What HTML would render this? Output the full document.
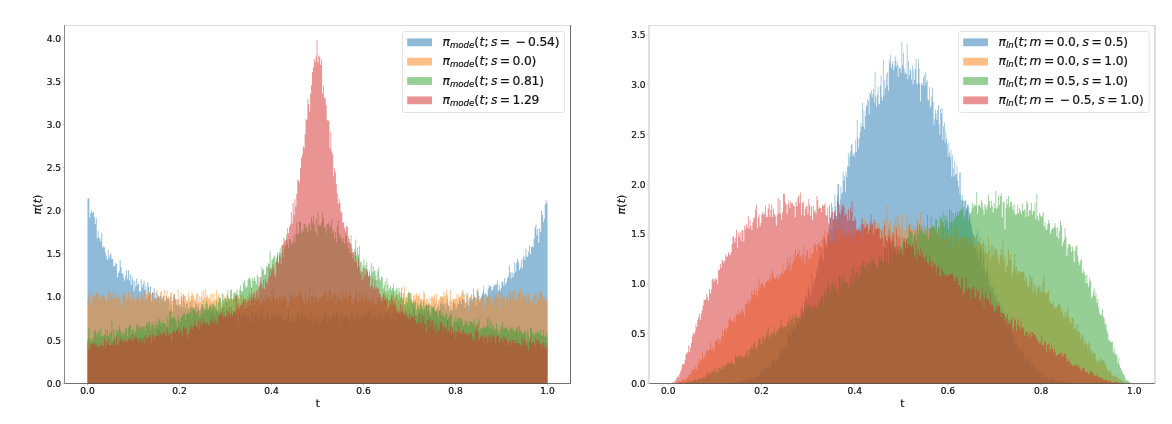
<!DOCTYPE html>
<html><head><meta charset="utf-8"><title>timestep densities</title>
<style>
html,body{margin:0;padding:0;background:#fff;}
svg{display:block;}
text{font-family:"DejaVu Sans","Liberation Sans",sans-serif;fill:#151515;stroke:#151515;stroke-width:.22px;}
.tk{font-size:9.1px;}
.lb{font-size:10.6px;}
.lg{font-size:12.3px;}
.i{font-style:oblique;}
.n{letter-spacing:-.2px;}
.sub{font-size:8.6px;font-style:oblique;}
.h path{fill-opacity:.5;stroke:none;}
</style></head><body>
<svg width="1172" height="424" viewBox="0 0 1172 424">
<rect width="1172" height="424" fill="#fff"/>

<clipPath id="cl"><rect x="64.5" y="25.5" width="506" height="358"/></clipPath>
<g class="h" clip-path="url(#cl)">
<path fill="#1f77b4" d="M87.50,383.50V198.39H88.42V198.17H89.34V217.8H90.26V212.63H91.18V210.25H92.1V213.06H93.02V211.98H93.94V216.94H94.86V224.06H95.78V218.02H96.7V238.52H97.62V230.75H98.54V237.22H99.46V238.95H100.38V241.75H101.3V232.69H102.22V247.58H103.14V246.5H104.06V247.15H104.98V252.54H105.9V256.21H106.82V260.09H107.74V249.95H108.66V258.15H109.58V255.56H110.5V253.62H111.42V259.23H112.34V259.01H113.26V266.13H114.18V266.35H115.1V263.11H116.02V263.97H116.94V277.35H117.86V273.04H118.78V271.31H119.7V259.87H120.62V267.21H121.54V273.68H122.46V273.25H123.38V277.78H124.3V280.8H125.22V275.62H126.14V270.23H127.06V279.29H127.98V270.23H128.9V280.37H129.82V273.9H130.74V285.12H131.66V276.7H132.58V280.37H133.5V291.37H134.42V281.23H135.34V286.84H136.26V278.43H137.18V285.12H138.1V283.39H139.02V291.59H139.94V291.37H140.86V279.51H141.78V287.49H142.7V284.25H143.62V280.8H144.54V290.08H145.46V286.2H146.38V299.57H147.3V281.88H148.22V286.63H149.14V292.45H150.06V286.41H150.98V301.51H151.9V292.02H152.82V292.67H153.74V288.14H154.66V297.63H155.58V292.24H156.5V298.49H157.42V293.96H158.34V296.12H159.26V297.2H160.18V295.91H161.1V299.79H162.02V297.42H162.94V295.69H163.86V301.73H164.78V300.22H165.7V296.34H166.62V299.79H167.54V298.49H168.46V298.71H169.38V311.22H170.3V296.98H171.22V304.97H172.14V311.22H173.06V297.2H173.98V294.83H174.9V300H175.82V304.75H176.74V299.57H177.66V305.4H178.58V299.36H179.5V307.34H180.42V303.89H181.34V296.77H182.26V307.77H183.18V294.83H184.1V303.02H185.02V308.42H185.94V303.89H186.86V303.46H187.78V307.99H188.7V308.85H189.62V301.73H190.54V307.77H191.46V300H192.38V309.5H193.3V307.77H194.22V307.56H195.14V301.08H196.06V303.89H196.98V307.56H197.9V303.89H198.82V309.71H199.74V309.5H200.66V307.56H201.58V303.89H202.5V307.12H203.42V308.63H204.34V306.91H205.26V309.71H206.18V310.79H207.1V303.67H208.02V310.36H208.94V305.83H209.86V305.61H210.78V309.93H211.7V311.44H212.62V303.46H213.54V309.28H214.46V313.17H215.38V308.63H216.3V311.01H217.22V311.87H218.14V311.22H219.06V312.73H219.98V311.22H220.9V308.42H221.82V312.09H222.74V307.77H223.66V307.34H224.58V311.44H225.5V317.7H226.42V302.16H227.34V308.63H228.26V316.83H229.18V314.24H230.1V318.34H231.02V306.48H231.94V314.68H232.86V311.87H233.78V310.79H234.7V312.3H235.62V310.14H236.54V318.56H237.46V326.54H238.38V315.11H239.3V311.22H240.22V316.19H241.14V314.03H242.06V317.05H242.98V313.17H243.9V316.19H244.82V312.52H245.74V317.7H246.66V315.54H247.58V317.91H248.5V314.89H249.42V323.74H250.34V317.91H251.26V311.87H252.18V311.44H253.1V321.58H254.02V312.95H254.94V314.68H255.86V312.95H256.78V317.7H257.7V312.52H258.62V322.44H259.54V314.89H260.46V304.75H261.38V312.73H262.3V316.62H263.22V306.69H264.14V317.7H265.06V321.15H265.98V314.24H266.9V309.71H267.82V312.73H268.74V319.85H269.66V321.58H270.58V316.19H271.5V312.95H272.42V314.24H273.34V317.91H274.26V316.83H275.18V314.03H276.1V315.32H277.02V316.4H277.94V312.95H278.86V315.11H279.78V315.97H280.7V313.17H281.62V316.19H282.54V319.42H283.46V319.64H284.38V323.31H285.3V317.7H286.22V319.42H287.14V317.26H288.06V308.63H288.98V324.38H289.9V320.72H290.82V323.09H291.74V316.62H292.66V322.01H293.58V321.58H294.5V317.48H295.42V322.66H296.34V317.91H297.26V311.66H298.18V315.11H299.1V315.75H300.02V322.87H300.94V315.97H301.86V307.34H302.78V317.48H303.7V314.68H304.62V317.05H305.54V317.7H306.46V320.07H307.38V315.97H308.3V317.91H309.22V322.44H310.14V311.22H311.06V320.29H311.98V323.74H312.9V318.99H313.82V322.23H314.74V317.26H315.66V318.13H316.58V319.21H317.5V324.17H318.42V326.76H319.34V315.54H320.26V321.58H321.18V319.42H322.1V315.97H323.02V319.21H323.94V316.4H324.86V312.95H325.78V314.24H326.7V323.95H327.62V316.4H328.54H329.46V317.26H330.38V321.15H331.3V317.05H332.22V315.97H333.14V311.01H334.06V311.87H334.98V317.7H335.9V310.36H336.82V313.81H337.74V315.97H338.66V318.99H339.58V309.28H340.5V325.89H341.42V313.17H342.34V313.6H343.26V318.13H344.18V315.32H345.1V316.62H346.02V315.32H346.94V317.26H347.86H348.78V317.05H349.7V325.03H350.62V309.5H351.54V314.24H352.46V318.99H353.38V309.5H354.3V318.77H355.22H356.14V315.32H357.06V314.03H357.98V316.19H358.9V320.29H359.82V315.32H360.74V322.66H361.66V315.54H362.58V318.56H363.5V314.24H364.42V313.6H365.34V317.26H366.26V313.38H367.18V315.32H368.1V310.58H369.02V309.93H369.94V312.09H370.86V318.13H371.78V314.68H372.7V318.13H373.62V306.48H374.54V316.62H375.46V318.34H376.38V314.89H377.3V321.58H378.22V312.73H379.14V316.4H380.06V309.71H380.98V315.32H381.9V316.83H382.82V321.15H383.74V310.79H384.66V316.83H385.58V312.95H386.5V313.81H387.42V315.54H388.34V313.6H389.26V311.01H390.18V320.5H391.1V315.97H392.02V313.81H392.94V311.66H393.86V320.72H394.78V310.14H395.7V312.95H396.62V311.01H397.54V314.24H398.46V308.2H399.38V314.24H400.3V318.77H401.22V311.44H402.14V312.95H403.06V311.66H403.98V315.11H404.9V314.68H405.82V311.66H406.74V308.2H407.66V316.4H408.58V306.69H409.5V310.14H410.42V313.38H411.34V313.81H412.26V302.81H413.18V307.12H414.1V306.26H415.02V315.32H415.94V315.54H416.86V316.19H417.78V306.69H418.7V311.01H419.62V312.73H420.54V305.18H421.46V307.56H422.38V311.22H423.3V312.73H424.22V306.26H425.14V311.44H426.06V304.54H426.98V310.36H427.9V304.75H428.82V304.32H429.74V309.71H430.66V314.68H431.58V312.52H432.5V307.56H433.42V309.5H434.34V303.67H435.26V311.01H436.18V309.28H437.1V307.77H438.02V305.4H438.94V310.36H439.86V302.16H440.78V303.89H441.7V297.2H442.62V303.67H443.54V304.75H444.46V303.46H445.38V314.68H446.3V303.24H447.22V299.36H448.14V305.61H449.06V310.14H449.98V307.12H450.9V310.79H451.82V309.71H452.74V300.44H453.66V303.46H454.58H455.5V309.07H456.42V307.34H457.34V303.24H458.26V303.89H459.18V297.63H460.1V301.51H461.02V304.1H461.94V299.36H462.86V300H463.78V299.36H464.7V307.99H465.62V303.02H466.54V293.32H467.46V301.3H468.38V305.4H469.3V297.85H470.22V299.57H471.14V294.18H472.06V298.93H472.98V288.57H473.9V296.98H474.82V297.42H475.74V306.05H476.66V290.08H477.58V292.02H478.5V295.91H479.42V302.38H480.34V298.06H481.26V296.12H482.18V292.67H483.1V290.3H484.02V294.39H484.94V292.88H485.86V294.18H486.78V296.55H487.7V288.79H488.62V284.9H489.54V287.06H490.46V285.76H491.38V290.51H492.3V289.22H493.22V286.2H494.14V284.47H495.06V285.33H495.98V284.47H496.9V280.37H497.82V291.37H498.74V284.69H499.66V290.73H500.58V288.14H501.5V281.45H502.42V281.88H503.34V285.76H504.26V278H505.18V284.47H506.1V281.88H507.02V278.43H507.94V276.49H508.86V265.7H509.78V272.6H510.7V278.86H511.62V271.96H512.54V277.13H513.46V273.47H514.38V262.25H515.3V271.74H516.22V263.33H517.14V258.8H518.06V262.03H518.98V270.23H519.9V267.86H520.82V260.31H521.74V268.5H522.66V258.36H523.58V255.56H524.5V260.09H525.42V249.09H526.34V256.42H527.26V256.85H528.18V251.68H529.1V245.85H530.02V254.05H530.94V246.93H531.86V246.5H532.78V246.93H533.7V238.73H534.62V227.3H535.54V224.71H536.46V235.28H537.38V229.02H538.3V243.05H539.22V227.94H540.14V232.04H541.06V210.68H541.98V214.78H542.9V222.33H543.82V218.88H544.74V204.43H545.66V200.54H546.58V203.13H547.5V383.5Z"/>
<path fill="#ff7f0e" d="M87.50,383.50V298.49H88.42V296.55H89.34V290.94H90.26V305.18H91.18V302.59H92.1V294.61H93.02V297.42H93.94V296.55H94.86V296.12H95.78V293.96H96.7V293.32H97.62V291.16H98.54V297.85H99.46V300.22H100.38V296.98H101.3V293.75H102.22V296.34H103.14V294.39H104.06V295.69H104.98V300.87H105.9V300.65H106.82V299.79H107.74V292.45H108.66V289.86H109.58V299.79H110.5V294.18H111.42V292.67H112.34V298.93H113.26V290.94H114.18V298.28H115.1V296.34H116.02V294.39H116.94V297.85H117.86V300H118.78V295.26H119.7V297.63H120.62V303.67H121.54V306.91H122.46V292.88H123.38V296.34H124.3V293.32H125.22V296.55H126.14V300.87H127.06V298.28H127.98V291.59H128.9V299.79H129.82V296.98H130.74V301.3H131.66V292.88H132.58V297.63H133.5V299.79H134.42V298.06H135.34V301.95H136.26V299.14H137.18V295.26H138.1V294.18H139.02V301.08H139.94V299.79H140.86V293.96H141.78V297.42H142.7V296.34H143.62V290.73H144.54V301.3H145.46V293.53H146.38V294.39H147.3V296.34H148.22V290.51H149.14V295.26H150.06V292.88H150.98V294.39H151.9V292.88H152.82V303.24H153.74V298.71H154.66V298.93H155.58V300.65H156.5V289.86H157.42V297.85H158.34V296.34H159.26V304.32H160.18V292.02H161.1V290.73H162.02V299.79H162.94V295.47H163.86V289.65H164.78V302.59H165.7V295.69H166.62V290.3H167.54V297.63H168.46V295.91H169.38V300.65H170.3V292.02H171.22V292.88H172.14V300.65H173.06V293.96H173.98H174.9V298.49H175.82V298.93H176.74V305.18H177.66V289H178.58V304.1H179.5V305.4H180.42V296.34H181.34V293.32H182.26V300.22H183.18V294.18H184.1V295.47H185.02V296.34H185.94V300.44H186.86V301.3H187.78V292.24H188.7V297.63H189.62V301.73H190.54V296.12H191.46V291.59H192.38V294.39H193.3V296.12H194.22V299.36H195.14V304.1H196.06V293.96H196.98V292.88H197.9V301.73H198.82V296.12H199.74V302.16H200.66V296.77H201.58V290.73H202.5V303.89H203.42V290.51H204.34V297.85H205.26V288.79H206.18V296.98H207.1V295.26H208.02V298.06H208.94V299.14H209.86V294.61H210.78V301.73H211.7V293.53H212.62V301.3H213.54V293.75H214.46V300H215.38V299.57H216.3V289.65H217.22V297.85H218.14V294.18H219.06V298.71H219.98V300.87H220.9V302.16H221.82V305.4H222.74V293.96H223.66V303.24H224.58V295.47H225.5V298.93H226.42V294.18H227.34V295.69H228.26V299.36H229.18V299.79H230.1V298.49H231.02V298.93H231.94V300.65H232.86V293.53H233.78V298.49H234.7V296.12H235.62V295.47H236.54V297.85H237.46V295.26H238.38V297.63H239.3V302.59H240.22V294.39H241.14V295.47H242.06V297.85H242.98V295.04H243.9V309.07H244.82V301.95H245.74V299.14H246.66V296.12H247.58V300H248.5V292.02H249.42V294.61H250.34V296.12H251.26V287.92H252.18V300.22H253.1V293.32H254.02V304.97H254.94V300.22H255.86V300.87H256.78V296.77H257.7V296.98H258.62V293.1H259.54V305.83H260.46V302.16H261.38V294.18H262.3V301.95H263.22V298.28H264.14V303.24H265.06V294.61H265.98V298.71H266.9V298.93H267.82V296.12H268.74V299.57H269.66V297.42H270.58V301.3H271.5V290.3H272.42V297.42H273.34V288.14H274.26V298.28H275.18V301.08H276.1V297.63H277.02V296.77H277.94V305.83H278.86V296.55H279.78V293.96H280.7V300H281.62V296.77H282.54V300.87H283.46V296.12H284.38V296.98H285.3V295.04H286.22V300.44H287.14V307.34H288.06V304.75H288.98V295.04H289.9V300.65H290.82V293.53H291.74V296.34H292.66H293.58V299.79H294.5V297.2H295.42V296.77H296.34V295.91H297.26V299.14H298.18V293.1H299.1V294.83H300.02V289.65H300.94V295.69H301.86V300H302.78V299.57H303.7V303.02H304.62V291.81H305.54V299.79H306.46V303.24H307.38V297.42H308.3V298.06H309.22V287.28H310.14V303.02H311.06V295.91H311.98H312.9V292.88H313.82V302.16H314.74V297.63H315.66V295.69H316.58V297.2H317.5V302.38H318.42V301.08H319.34V296.98H320.26V298.71H321.18V296.77H322.1V295.69H323.02V295.04H323.94V292.45H324.86V291.16H325.78V295.69H326.7V300.65H327.62V291.37H328.54V300H329.46V288.57H330.38V290.73H331.3V299.36H332.22V298.93H333.14V293.32H334.06V295.04H334.98V292.45H335.9V302.38H336.82V295.69H337.74V298.06H338.66V293.53H339.58V301.51H340.5V297.42H341.42V300.44H342.34V289.43H343.26V295.69H344.18V298.06H345.1V297.42H346.02V291.59H346.94V301.95H347.86V295.04H348.78V295.69H349.7V290.94H350.62V295.91H351.54V301.51H352.46V304.32H353.38V297.63H354.3V296.98H355.22V296.77H356.14V288.79H357.06V301.73H357.98V301.3H358.9V293.1H359.82V300.44H360.74V296.98H361.66V296.12H362.58V296.98H363.5V301.3H364.42V292.88H365.34V300H366.26V294.61H367.18V299.79H368.1V301.3H369.02V299.57H369.94V304.32H370.86V299.79H371.78V299.36H372.7V302.59H373.62V298.71H374.54V304.1H375.46V302.59H376.38V303.89H377.3V297.2H378.22V296.98H379.14V298.93H380.06V301.95H380.98V296.55H381.9V303.89H382.82V293.32H383.74V290.94H384.66V293.75H385.58V297.85H386.5V296.34H387.42V294.39H388.34V300.22H389.26V301.08H390.18V298.06H391.1V297.2H392.02V294.39H392.94V290.08H393.86V302.16H394.78V291.37H395.7V294.18H396.62H397.54V298.71H398.46V300.65H399.38V293.1H400.3V298.49H401.22V292.45H402.14V299.79H403.06V299.57H403.98V286.41H404.9V297.63H405.82V300.44H406.74V297.42H407.66V294.39H408.58V293.1H409.5V292.88H410.42V294.18H411.34V298.49H412.26V301.95H413.18V295.69H414.1V294.39H415.02V302.16H415.94V293.32H416.86V295.47H417.78V296.12H418.7V293.32H419.62V298.71H420.54V299.14H421.46V298.71H422.38V301.51H423.3V291.37H424.22V293.32H425.14V302.38H426.06V298.71H426.98V298.93H427.9V303.02H428.82V297.63H429.74V304.54H430.66V298.06H431.58V296.12H432.5V298.28H433.42V296.55H434.34V294.61H435.26V300.22H436.18V293.96H437.1V303.67H438.02V300.87H438.94V299.36H439.86V296.34H440.78V295.69H441.7V297.85H442.62V296.55H443.54V292.02H444.46V296.12H445.38V294.61H446.3V289.86H447.22V295.69H448.14V305.4H449.06V301.51H449.98V290.3H450.9V300H451.82V302.16H452.74V298.93H453.66V298.49H454.58V299.14H455.5V298.71H456.42V293.75H457.34V299.79H458.26V295.26H459.18V297.42H460.1V296.55H461.02V293.53H461.94V290.3H462.86V291.81H463.78V293.96H464.7V301.73H465.62V303.02H466.54V296.34H467.46V292.88H468.38V310.79H469.3V298.28H470.22V296.12H471.14V301.3H472.06V302.16H472.98V302.59H473.9V295.47H474.82V299.36H475.74V299.14H476.66V297.42H477.58V288.35H478.5V299.79H479.42H480.34V299.36H481.26V294.83H482.18V297.63H483.1V285.55H484.02V306.69H484.94V303.02H485.86V296.77H486.78V296.34H487.7V297.85H488.62V293.32H489.54V295.91H490.46V299.57H491.38V297.63H492.3V304.1H493.22V291.37H494.14V300H495.06V295.26H495.98V293.96H496.9V299.79H497.82V297.63H498.74V289.65H499.66V308.42H500.58V292.88H501.5V297.42H502.42V293.75H503.34V297.63H504.26V297.2H505.18V305.18H506.1V297.85H507.02V296.34H507.94V300.44H508.86V293.96H509.78V290.94H510.7V296.34H511.62V300.44H512.54V292.02H513.46V296.77H514.38V289.86H515.3V297.63H516.22V300H517.14V293.96H518.06V292.88H518.98H519.9V288.14H520.82V298.93H521.74V291.81H522.66V298.71H523.58V295.47H524.5V295.26H525.42V296.77H526.34V302.59H527.26V292.24H528.18V293.96H529.1V297.63H530.02V300.87H530.94V299.57H531.86V303.46H532.78V298.49H533.7V294.18H534.62V295.91H535.54V304.97H536.46V292.88H537.38V300.65H538.3V298.93H539.22V292.02H540.14V291.59H541.06V292.02H541.98V295.91H542.9V296.77H543.82V300.44H544.74V297.63H545.66V300.87H546.58V297.42H547.5V383.5Z"/>
<path fill="#2ca02c" d="M87.50,383.50V338.41H88.42V327.84H89.34V337.98H90.26V340.57H91.18V339.27H92.1V340.57H93.02V337.33H93.94V331.07H94.86V329.56H95.78V333.45H96.7V337.33H97.62V332.8H98.54V331.07H99.46V335.17H100.38V328.48H101.3V336.9H102.22V336.03H103.14V335.6H104.06V334.74H104.98V329.56H105.9V336.25H106.82V330.21H107.74V336.03H108.66V334.96H109.58V331.5H110.5V332.8H111.42V321.58H112.34V339.49H113.26V329.13H114.18V335.17H115.1V337.11H116.02V330.21H116.94V332.58H117.86V330.21H118.78V325.46H119.7V330.86H120.62V333.23H121.54V331.07H122.46V336.25H123.38V332.8H124.3V333.45H125.22V326.97H126.14V328.27H127.06V336.47H127.98V327.4H128.9V325.68H129.82V324.38H130.74V334.52H131.66V329.78H132.58V328.48H133.5V333.66H134.42V332.37H135.34V330.64H136.26V323.74H137.18V325.68H138.1V327.84H139.02V325.25H139.94V329.56H140.86V326.76H141.78V327.62H142.7V325.68H143.62V326.76H144.54V331.07H145.46V325.25H146.38V321.79H147.3V326.11H148.22V322.44H149.14V321.79H150.06V329.99H150.98V325.03H151.9V322.01H152.82V324.82H153.74V328.48H154.66V325.03H155.58V320.93H156.5V327.4H157.42V324.6H158.34V318.77H159.26V319.64H160.18V322.23H161.1V326.11H162.02V320.5H162.94V323.31H163.86V323.74H164.78V323.95H165.7V327.62H166.62V316.4H167.54V328.27H168.46V321.36H169.38V309.28H170.3V312.09H171.22V318.13H172.14V318.56H173.06V317.7H173.98V316.62H174.9V319.85H175.82V321.15H176.74V327.62H177.66V315.11H178.58V320.07H179.5V322.44H180.42V318.34H181.34V316.4H182.26V315.32H183.18V313.81H184.1V313.38H185.02V320.07H185.94V314.46H186.86V313.81H187.78V312.73H188.7V314.68H189.62V311.65H190.54V307.12H191.46V317.48H192.38V307.12H193.3V308.63H194.22V310.36H195.14V311.44H196.06V313.38H196.98V311.87H197.9V310.36H198.82V317.05H199.74V315.75H200.66V312.73H201.58V304.97H202.5V299.79H203.42V312.73H204.34V309.93H205.26V303.46H206.18V301.08H207.1V308.2H208.02V308.85H208.94V307.34H209.86V303.67H210.78V306.48H211.7V303.67H212.62V306.26H213.54V304.53H214.46V305.83H215.38V307.77H216.3V301.3H217.22V310.14H218.14V302.38H219.06V296.98H219.98V298.06H220.9V308.2H221.82V293.53H222.74V300.22H223.66V298.49H224.58V298.93H225.5V297.85H226.42V301.73H227.34V290.51H228.26V297.63H229.18V298.93H230.1V290.3H231.02V289.43H231.94V299.14H232.86V298.28H233.78V292.24H234.7V293.53H235.62V292.88H236.54V290.08H237.46V294.83H238.38V298.93H239.3V289.43H240.22V285.55H241.14V291.16H242.06V291.59H242.98V282.53H243.9V280.15H244.82V285.98H245.74V287.92H246.66V286.2H247.58V279.29H248.5V277.78H249.42V278H250.34V280.8H251.26V287.27H252.18V278H253.1V281.23H254.02V277.78H254.94V281.23H255.86V284.25H256.78V274.76H257.7V276.92H258.62V287.49H259.54V277.35H260.46V281.23H261.38V266.78H262.3V270.01H263.22V269.37H264.14V274.76H265.06V273.9H265.98V266.35H266.9V266.78H267.82V263.33H268.74V263.76H269.66V251.24H270.58V267.64H271.5V259.66H272.42V259.23H273.34V256.64H274.26V255.13H275.18V262.25H276.1V257.93H277.02V255.77H277.94V262.89H278.86V255.34H279.78V248.22H280.7V253.19H281.62V245.2H282.54V256.64H283.46V249.09H284.38V245.2H285.3V245.85H286.22V234.2H287.14V242.61H288.06V247.58H288.98V238.95H289.9V239.16H290.82V242.4H291.74V244.77H292.66V240.46H293.58V235.06H294.5V242.4H295.42V233.55H296.34V222.33H297.26V234.85H298.18V233.34H299.1V221.25H300.02V222.12H300.94V232.69H301.86V229.02H302.78V231.83H303.7V223.84H304.62V223.63H305.54V228.16H306.46V226.65H307.38V232.26H308.3V224.28H309.22V222.55H310.14V229.67H311.06V217.16H311.98V222.33H312.9V215.86H313.82V224.28H314.74V231.83H315.66V219.53H316.58V235.06H317.5V212.41H318.42V224.49H319.34V226H320.26V225.35H321.18V222.12H322.1V212.41H323.02V217.8H323.94V227.94H324.86V226.22H325.78V233.12H326.7V224.06H327.62V223.84H328.54V222.55H329.46V228.59H330.38V225.35H331.3V218.45H332.22V233.12H333.14V230.32H334.06V237.87H334.98V232.04H335.9V242.18H336.82V226H337.74V220.61H338.66V233.77H339.58V238.3H340.5V234.63H341.42V238.3H342.34V241.75H343.26V237.44H344.18V243.91H345.1V233.55H346.02V236.57H346.94V242.83H347.86V248.44H348.78V242.83H349.7V253.19H350.62V235.06H351.54V253.4H352.46V258.15H353.38V254.7H354.3V249.09H355.22V239.59H356.14V255.56H357.06V247.58H357.98V254.7H358.9V246.07H359.82V261.17H360.74V262.25H361.66V271.96H362.58V265.05H363.5V258.8H364.42V267.43H365.34V265.27H366.26V262.03H367.18V269.58H368.1V276.27H369.02V270.45H369.94V276.06H370.86V262.89H371.78V272.6H372.7V266.35H373.62V271.31H374.54V270.66H375.46V275.62H376.38V279.94H377.3V270.88H378.22V267.64H379.14V279.08H380.06V280.59H380.98V276.7H381.9V277.57H382.82V288.57H383.74V284.9H384.66V281.67H385.58V291.16H386.5V278.21H387.42V284.69H388.34V290.51H389.26V287.92H390.18V286.2H391.1V290.3H392.02V287.92H392.94V283.82H393.86V290.94H394.78V296.55H395.7V289H396.62V287.49H397.54V294.61H398.46V287.92H399.38V292.02H400.3V296.98H401.22V287.27H402.14V297.85H403.06V293.32H403.98V303.89H404.9V304.53H405.82V296.98H406.74V302.16H407.66V292.45H408.58V291.81H409.5V299.36H410.42V292.88H411.34V301.51H412.26V304.1H413.18V300.44H414.1V301.73H415.02V299.14H415.94V309.71H416.86V303.02H417.78V305.61H418.7V308.42H419.62V303.46H420.54V301.3H421.46V305.18H422.38V309.07H423.3V300H424.22V308.85H425.14V305.83H426.06V304.53H426.98V304.97H427.9V305.83H428.82V312.73H429.74V316.19H430.66V306.05H431.58V306.26H432.5H433.42V307.77H434.34V310.36H435.26V312.09H436.18V311.44H437.1V313.38H438.02V317.26H438.94V310.79H439.86V310.14H440.78V315.97H441.7V312.52H442.62V315.32H443.54V316.83H444.46V317.7H445.38V309.07H446.3V312.95H447.22V320.07H448.14V318.34H449.06V316.19H449.98V314.46H450.9V313.6H451.82V326.33H452.74V322.44H453.66V321.58H454.58V317.26H455.5V321.36H456.42V318.56H457.34V322.23H458.26V317.05H459.18V318.99H460.1V318.56H461.02V318.34H461.94V321.15H462.86V325.46H463.78V325.03H464.7V319.42H465.62V323.52H466.54V320.93H467.46V326.11H468.38V325.46H469.3V321.15H470.22V321.79H471.14V321.58H472.06V323.74H472.98V322.44H473.9V319.42H474.82V327.4H475.74V327.62H476.66V325.89H477.58V322.01H478.5V318.56H479.42V331.5H480.34V328.05H481.26V327.84H482.18V328.7H483.1V325.89H484.02V327.4H484.94H485.86V326.54H486.78V318.77H487.7V325.89H488.62V316.62H489.54V328.27H490.46V320.72H491.38V328.7H492.3V324.17H493.22V327.4H494.14V330.86H495.06V329.35H495.98V323.31H496.9V328.48H497.82V331.5H498.74V334.96H499.66V330.86H500.58V325.03H501.5V326.97H502.42V321.58H503.34V329.78H504.26V328.05H505.18V326.54H506.1V328.05H507.02V329.35H507.94V330.86H508.86V333.45H509.78V327.4H510.7V328.27H511.62V329.56H512.54V327.19H513.46V332.15H514.38V329.99H515.3V331.07H516.22V326.97H517.14V327.19H518.06V332.37H518.98V325.25H519.9V331.07H520.82V330.86H521.74V334.09H522.66V333.23H523.58V332.15H524.5V330.86H525.42V333.23H526.34V340.35H527.26V329.56H528.18V335.39H529.1V340.78H530.02V327.4H530.94V327.84H531.86V333.01H532.78V333.23H533.7V336.68H534.62V334.31H535.54V331.94H536.46V333.66H537.38V330.64H538.3V332.58H539.22V333.88H540.14V329.99H541.06V336.03H541.98V335.6H542.9V329.78H543.82V335.82H544.74V336.68H545.66V337.11H546.58V331.94H547.5V383.5Z"/>
<path fill="#d62728" d="M87.50,383.50V342.51H88.42V350.49H89.34V348.55H90.26V343.8H91.18V344.88H92.1V343.15H93.02H93.94V344.88H94.86V342.94H95.78V346.61H96.7V343.15H97.62V347.47H98.54V347.04H99.46V345.31H100.38V343.8H101.3V345.74H102.22V346.17H103.14V345.31H104.06V338.41H104.98V348.98H105.9V341.21H106.82V343.58H107.74V339.27H108.66V345.31H109.58V345.53H110.5V344.66H111.42V342.94H112.34V344.88H113.26V340.56H114.18V340.35H115.1V345.53H116.02V336.68H116.94V344.45H117.86V346.17H118.78V341.21H119.7V337.11H120.62V340.78H121.54V339.27H122.46V341.64H123.38V342.72H124.3V340.13H125.22V339.49H126.14V341.21H127.06V342.07H127.98V339.7H128.9V338.41H129.82V338.62H130.74V341.43H131.66V334.09H132.58V340.13H133.5H134.42V337.33H135.34V336.68H136.26V338.19H137.18V339.49H138.1V342.29H139.02V337.98H139.94V339.49H140.86V337.98H141.78V342.94H142.7V339.27H143.62V336.46H144.54V343.15H145.46V334.74H146.38V338.19H147.3V339.05H148.22V336.68H149.14V334.95H150.06V337.33H150.98V343.37H151.9V333.23H152.82V339.05H153.74V334.52H154.66V339.27H155.58V335.82H156.5H157.42V329.13H158.34V336.03H159.26V331.07H160.18V333.88H161.1V334.95H162.02V333.44H162.94V332.15H163.86V331.72H164.78V336.9H165.7V334.95H166.62V326.97H167.54V332.15H168.46V336.03H169.38V333.88H170.3V333.23H171.22V341.64H172.14V332.15H173.06V329.99H173.98V332.37H174.9V332.8H175.82V330.21H176.74V329.99H177.66V326.76H178.58V333.44H179.5V328.7H180.42V332.15H181.34V331.07H182.26V336.68H183.18V325.89H184.1V328.7H185.02V329.34H185.94V327.4H186.86V338.41H187.78V333.88H188.7V332.37H189.62V329.34H190.54V324.38H191.46V326.97H192.38V328.7H193.3V325.03H194.22V320.71H195.14V326.32H196.06V326.76H196.98V327.19H197.9V321.36H198.82V329.99H199.74V319.42H200.66V325.46H201.58V324.38H202.5V318.13H203.42V321.36H204.34V323.74H205.26V322.01H206.18V323.95H207.1V322.66H208.02V325.25H208.94V325.03H209.86V319.64H210.78V315.11H211.7V322.66H212.62V322.44H213.54V316.4H214.46V323.09H215.38V319.42H216.3V324.6H217.22V322.66H218.14V316.18H219.06V314.89H219.98V314.03H220.9V315.32H221.82V312.95H222.74V318.56H223.66V315.54H224.58V317.48H225.5V315.54H226.42V310.14H227.34V316.4H228.26V311.87H229.18V306.91H230.1V314.24H231.02V311.22H231.94V316.62H232.86V310.57H233.78V312.52H234.7V314.46H235.62V295.69H236.54V309.5H237.46V304.32H238.38V307.12H239.3V309.06H240.22V304.75H241.14V304.96H242.06V303.24H242.98V300H243.9V299.57H244.82V298.71H245.74V307.77H246.66V302.81H247.58V301.08H248.5V297.84H249.42V305.83H250.34V300.43H251.26V293.31H252.18V297.63H253.1V294.39H254.02V291.8H254.94V297.84H255.86V290.94H256.78V289.65H257.7V299.79H258.62V286.41H259.54V282.96H260.46V276.7H261.38V285.11H262.3V288.57H263.22V279.94H264.14V289H265.06V279.29H265.98V282.09H266.9V284.04H267.82V278.21H268.74V268.29H269.66V276.05H270.58V268.72H271.5V270.44H272.42V264.62H273.34V267.42H274.26V273.9H275.18V276.92H276.1V260.73H277.02V252.75H277.94V262.46H278.86V251.89H279.78V256.63H280.7V264.4H281.62V245.85H282.54V243.91H283.46V237.43H284.38V240.67H285.3V240.24H286.22V239.16H287.14V228.37H288.06V232.9H288.98V226.64H289.9V224.49H290.82V212.19H291.74V223.62H292.66V202.91H293.58V215.21H294.5V199.03H295.42V206.58H296.34V194.07H297.26V180.26H298.18V180.04H299.1V182.63H300.02V167.96H300.94V158.03H301.86V154.8H302.78V146.17H303.7V148.54H304.62V134.3H305.54V119.2H306.46V119.84H307.38V99.13H308.3V103.88H309.22V111.43H310.14V93.74H311.06V84.89H311.98V72.16H312.9V67.42H313.82V59H314.74V62.45H315.66V56.41H316.58V40.01H317.5V62.45H318.42V55.55H319.34V56.63H320.26V65.04H321.18V59.43H322.1V93.74H323.02V85.76H323.94V97.84H324.86V98.48H325.78V104.96H326.7V120.06H327.62V120.92H328.54V120.28H329.46V148.32H330.38V131.71H331.3V151.56H332.22V153.93H333.14V176.37H334.06V168.17H334.98V172.27H335.9V183.71H336.82V193.42H337.74V203.77H338.66V198.6H339.58V202.7H340.5V211.33H341.42V213.05H342.34V222.76H343.26V221.9H344.18V228.15H345.1V231.18H346.02V226H346.94V227.08H347.86V235.92H348.77V238.94H349.69V242.83H350.61V244.55H351.53V248.44H352.45V251.89H353.37V252.32H354.29V260.95H355.21V252.1H356.13V262.24H357.05V267.64H357.97V257.71H358.89V266.34H359.81V273.68H360.73V270.66H361.65V280.15H362.57V268.07H363.49V277.56H364.41V269.15H365.33V274.76H366.25V270.01H367.17V271.95H368.09V276.48H369.01V274.54H369.93V286.84H370.85V285.33H371.77V278.43H372.69V289.21H373.61V286.84H374.53V280.58H375.45V288.78H376.37V286.84H377.29V288.14H378.21V289H379.13V292.88H380.05V294.82H380.97V300.65H381.89V297.41H382.81V294.18H383.73V300.22H384.65V296.77H385.57V300.43H386.49V298.92H387.41V308.63H388.33V306.26H389.25V300H390.17V304.75H391.09V295.04H392.01V300.43H392.93V304.75H393.85V298.71H394.77V303.67H395.69V307.12H396.61V310.79H397.53V313.59H398.45V311.65H399.37V312.73H400.29V304.1H401.21V311.44H402.13V306.69H403.05V312.95H403.97V314.67H404.89V310.36H405.81V314.03H406.73V316.18H407.65V319.2H408.57V314.24H409.49V320.07H410.41V317.48H411.33V316.62H412.25V317.69H413.17V317.48H414.09V314.89H415.01V320.07H415.93V324.17H416.85V322.01H417.77V322.87H418.69V313.38H419.61V321.79H420.53V324.6H421.45V315.11H422.37V320.93H423.29V316.18H424.21V323.74H425.13V323.09H426.05V332.37H426.97V320.07H427.89V320.28H428.81V316.62H429.73V326.11H430.65V321.15H431.57V319.64H432.49V321.36H433.41V330.86H434.33V326.76H435.25V322.87H436.17V332.58H437.09V325.03H438.01V330.86H438.93V328.7H439.85V321.79H440.77V322.66H441.69V323.74H442.61V331.29H443.53V325.46H444.45V326.97H445.37V327.62H446.29V331.93H447.21V320.71H448.13V330.21H449.05V332.37H449.97V325.46H450.89V333.88H451.81V328.05H452.73V331.5H453.65V333.66H454.57V330.86H455.49V339.27H456.41V331.72H457.33V332.37H458.25V326.11H459.17V334.09H460.09V330.86H461.01V334.09H461.93V331.93H462.85V329.13H463.77V332.8H464.69V334.31H465.61V333.66H466.53V335.6H467.45V334.31H468.37V332.37H469.29V335.6H470.21V332.8H471.13V333.88H472.05V339.49H472.97V336.46H473.89V340.35H474.81V331.07H475.73V324.38H476.65V330.64H477.57V332.58H478.49V341H479.41V338.84H480.33V336.25H481.25V338.19H482.17V334.31H483.09V342.07H484.01V337.11H484.93V337.54H485.85V335.6H486.77V343.58H487.69V338.19H488.61V334.74H489.53V341.86H490.45V333.88H491.37V337.98H492.29V336.03H493.21V334.52H494.13V337.33H495.05V343.58H495.97V337.11H496.89V336.03H497.81V335.39H498.73V342.29H499.65V341.64H500.57V337.76H501.49V338.62H502.41V342.07H503.33V335.82H504.25V338.62H505.17V339.92H506.09V338.41H507.01V345.31H507.93V341.86H508.85V342.29H509.77V339.92H510.69V345.74H511.61V339.92H512.53V340.56H513.45V342.72H514.37V340.35H515.29V343.37H516.21V342.94H517.13V339.49H518.05V344.45H518.97V342.94H519.89V346.39H520.81V344.45H521.73V337.98H522.65V345.31H523.57V339.49H524.49V340.78H525.41V345.1H526.33V343.37H527.25V347.04H528.17V350.27H529.09V341.21H530.01V337.11H530.93V343.15H531.85V343.37H532.77V341.64H533.69V343.15H534.61V347.04H535.53V338.19H536.45V343.37H537.37V339.92H538.29V340.35H539.21V344.45H540.13V344.02H541.05V347.25H541.97V343.37H542.89H543.81V347.9H544.73V344.66H545.65V347.9H546.57V343.15H547.49V383.5Z"/>
</g>
<line x1="64.5" y1="25" x2="64.5" y2="384" stroke="#000" stroke-opacity="0.46" stroke-width="1"/>
<line x1="570.5" y1="25" x2="570.5" y2="384" stroke="#000" stroke-opacity="0.58" stroke-width="1"/>
<line x1="65" y1="25.5" x2="570" y2="25.5" stroke="#000" stroke-opacity="0.14" stroke-width="1"/>
<line x1="65" y1="383.5" x2="570" y2="383.5" stroke="#000" stroke-opacity="0.55" stroke-width="1"/>
<line x1="62.5" y1="383.30" x2="64" y2="383.30" stroke="#000" stroke-opacity=".22" stroke-width="1"/>
<text class="tk" x="61.1" y="386.70" text-anchor="end">0.0</text>
<line x1="62.5" y1="340.15" x2="64" y2="340.15" stroke="#000" stroke-opacity=".22" stroke-width="1"/>
<text class="tk" x="61.1" y="343.55" text-anchor="end">0.5</text>
<line x1="62.5" y1="297.00" x2="64" y2="297.00" stroke="#000" stroke-opacity=".22" stroke-width="1"/>
<text class="tk" x="61.1" y="300.40" text-anchor="end">1.0</text>
<line x1="62.5" y1="253.85" x2="64" y2="253.85" stroke="#000" stroke-opacity=".22" stroke-width="1"/>
<text class="tk" x="61.1" y="257.25" text-anchor="end">1.5</text>
<line x1="62.5" y1="210.70" x2="64" y2="210.70" stroke="#000" stroke-opacity=".22" stroke-width="1"/>
<text class="tk" x="61.1" y="214.10" text-anchor="end">2.0</text>
<line x1="62.5" y1="167.55" x2="64" y2="167.55" stroke="#000" stroke-opacity=".22" stroke-width="1"/>
<text class="tk" x="61.1" y="170.95" text-anchor="end">2.5</text>
<line x1="62.5" y1="124.40" x2="64" y2="124.40" stroke="#000" stroke-opacity=".22" stroke-width="1"/>
<text class="tk" x="61.1" y="127.80" text-anchor="end">3.0</text>
<line x1="62.5" y1="81.25" x2="64" y2="81.25" stroke="#000" stroke-opacity=".22" stroke-width="1"/>
<text class="tk" x="61.1" y="84.65" text-anchor="end">3.5</text>
<line x1="62.5" y1="38.10" x2="64" y2="38.10" stroke="#000" stroke-opacity=".22" stroke-width="1"/>
<text class="tk" x="61.1" y="41.50" text-anchor="end">4.0</text>
<line x1="87.50" y1="384" x2="87.50" y2="385.5" stroke="#000" stroke-opacity=".22" stroke-width="1"/>
<text class="tk" x="87.50" y="394.1" text-anchor="middle">0.0</text>
<line x1="179.50" y1="384" x2="179.50" y2="385.5" stroke="#000" stroke-opacity=".22" stroke-width="1"/>
<text class="tk" x="179.50" y="394.1" text-anchor="middle">0.2</text>
<line x1="271.50" y1="384" x2="271.50" y2="385.5" stroke="#000" stroke-opacity=".22" stroke-width="1"/>
<text class="tk" x="271.50" y="394.1" text-anchor="middle">0.4</text>
<line x1="363.50" y1="384" x2="363.50" y2="385.5" stroke="#000" stroke-opacity=".22" stroke-width="1"/>
<text class="tk" x="363.50" y="394.1" text-anchor="middle">0.6</text>
<line x1="455.50" y1="384" x2="455.50" y2="385.5" stroke="#000" stroke-opacity=".22" stroke-width="1"/>
<text class="tk" x="455.50" y="394.1" text-anchor="middle">0.8</text>
<line x1="547.50" y1="384" x2="547.50" y2="385.5" stroke="#000" stroke-opacity=".22" stroke-width="1"/>
<text class="tk" x="547.50" y="394.1" text-anchor="middle">1.0</text>
<text class="lb" x="317.9" y="407" text-anchor="middle">t</text>
<text class="lb" style="font-size:11.2px" transform="translate(40.5,204.5) rotate(-90)" text-anchor="middle"><tspan class="i">π</tspan>(<tspan class="i">t</tspan>)</text>
<clipPath id="cr"><rect x="649" y="25.5" width="506" height="358"/></clipPath>
<g class="h" clip-path="url(#cr)">
<path fill="#1f77b4" d="M716.13,383.50V383.19H716.87V383.5H717.62V383.19H718.36V383.5H719.11V383.19H719.85V383.5H720.6H721.34V383.19H722.09V383.5H722.83V383.19H723.58V383.5H724.32V383.19H725.07V383.5H725.81H726.55V383.19H727.3H728.04V382.88H728.79V383.5H729.53V382.88H730.28H731.02H731.77V383.5H732.51V382.88H733.26H734V381.94H734.74V383.19H735.49V381.94H736.23V383.19H736.98V381.32H737.72V383.19H738.47V381.32H739.21V381.94H739.96V381.01H740.7H741.45V381.94H742.19V381.01H742.94V381.32H743.68V380.7H744.42V381.32H745.17V379.76H745.91V378.52H746.66V380.39H747.4V377.9H748.15V379.14H748.89V379.45H749.64V380.39H750.38V378.52H751.13V376.34H751.87V378.83H752.62V378.52H753.36V379.14H754.1H754.85V377.27H755.59V377.58H756.34V375.4H757.08V373.85H757.83V376.96H758.57V375.4H759.32V377.27H760.06V370.11H760.81V373.85H761.55V371.98H762.3V368.24H763.04V371.36H763.78V370.73H764.53V368.55H765.27V369.18H766.02V367.31H766.76H767.51V369.8H768.25V367.31H769V367.93H769.74V366.37H770.49V364.19H771.23V362.64H771.98V360.77H772.72V360.46H773.46V361.08H774.21V360.15H774.95V366.06H775.7V357.97H776.44V361.39H777.19V360.77H777.93V361.7H778.68V354.23H779.42V355.79H780.17V347.07H780.91V346.76H781.65V351.12H782.4V350.8H783.14V345.51H783.89V346.76H784.63V343.64H785.38V348.31H786.12V345.2H786.87V341.15H787.61V334.3H788.36V330.25H789.1V332.74H789.85V329.63H790.59V337.73H791.33V327.45H792.08V329.63H792.82V325.58H793.57V330.56H794.31V327.76H795.06V331.19H795.8V324.65H796.55V317.17H797.29V323.09H798.04V323.71H798.78V319.04H799.53V315.62H800.27V308.46H801.01V308.14H801.76V301.61H802.5V307.52H803.25V312.19H803.99V301.92H804.74V300.36H805.48V295.07H806.23H806.97V299.11H807.72V288.22H808.46V284.48H809.21V292.58H809.95V293.2H810.69V295.69H811.44V273.58H812.18V284.17H812.93V288.22H813.67V278.56H814.42V281.37H815.16V278.25H815.91V270.47H816.65V268.29H817.4V274.83H818.14V261.75H818.89V253.96H819.63V259.88H820.37V247.11H821.12V255.52H821.86V248.67H822.61V259.57H823.35V261.44H824.1V238.08H824.84V239.64H825.59V248.67H826.33V247.42H827.08V232.17H827.82V236.21H828.56V228.43H829.31V223.45H830.05V217.53H830.8V214.42H831.54V229.36H832.29V207.25H833.03V219.4H833.78V212.24H834.52V194.18H835.27V206.32H836.01V215.97H836.76V201.03H837.5V184.52H838.24V183.9H838.99V205.08H839.73V199.47H840.48V186.7H841.22V194.18H841.97V192.31H842.71V171.45H843.46V180.79H844.2V175.8H844.95V192.31H845.69V171.13H846.44V177.05H847.18V166.15H847.92V152.76H848.67V166.77H849.41V156.81H850.16V151.21H850.9V144.67H851.65V144.04H852.39V155.56H853.14V153.39H853.88V157.12H854.63V152.45H855.37V140.31H856.12V151.83H856.86V120.07H857.6V138.13H858.35V147.47H859.09V138.13H859.84V131.59H860.58V123.18H861.33V126.92H862.07V102.63H862.82V126.29H863.56V110.41H864.31V129.1H865.05V116.33H865.8V106.68H866.54V105.12H867.28V98.89H868.03V101.07H868.77V114.46H869.52V92.04H870.26V94.53H871.01V90.17H871.75V97.65H872.5V93.91H873.24V88.93H873.99V102.94H874.73V71.49H875.47V96.4H876.22V106.68H876.96V94.53H877.71V87.06H878.45V104.5H879.2V103.87H879.94V85.81H880.69V75.54H881.43V97.02H882.18V100.45H882.92V60.28H883.67V95.16H884.41V79.9H885.15V88.62H885.9V73.98H886.64V85.19H887.39V71.49H888.13V90.8H888.88V60.28H889.62V63.39H890.37V54.68H891.11V68.06H891.86V64.33H892.6V61.53H893.35V70.24H894.09V66.2H894.83V56.54H895.58V60.59H896.32V66.2H897.07V62.77H897.81V76.78H898.56V65.57H899.3V68.38H900.05V68.06H900.79V72.74H901.54V41.91H902.28V65.26H903.03V52.81H903.77V68.38H904.51V73.67H905.26V71.49H906V73.98H906.75V44.09H907.49V79.27H908.24V60.9H908.98V75.54H909.73V69H910.47V70.87H911.22V79.59H911.96V65.57H912.71V84.57H913.45V69.31H914.19V79.59H914.94V69H915.68V59.03H916.43V83.01H917.17V84.57H917.92V58.72H918.66V68.38H919.41V83.32H920.15V101.38H920.9V84.57H921.64V82.7H922.38V85.5H923.13V77.41H923.87V74.6H924.62V85.81H925.36V72.11H926.11V82.08H926.85V79.9H927.6V99.52H928.34V100.45H929.09V86.75H929.83V107.61H930.58V105.43H931.32V96.71H932.06V87.68H932.81V102.01H933.55V125.05H934.3V118.82H935.04V109.48H935.79V113.22H936.53V120.07H937.28V110.1H938.02V105.12H938.77V124.74H939.51V135.32H940.26V108.86H941V113.53H941.74V108.23H942.49V139.68H943.23V125.98H943.98V122.56H944.72V142.8H945.47V130.97H946.21V138.75H946.96V143.73H947.7V156.5H948.45V142.49H949.19V153.07H949.94V157.43H950.68V149.65H951.42V176.74H952.17V155.25H952.91V168.33H953.66V176.43H954.4V161.17H955.15V174.87H955.89V173.94H956.64V165.84H957.38V180.48H958.13V186.7H958.87V172.38H959.62V194.8H960.36V172.38H961.1V199.78H961.85V194.49H962.59V201.34H963.34V206.63H964.08V201.03H964.83V201.34H965.57V210.68H966.32V208.5H967.06V206.32H967.81V204.76H968.55V206.94H969.29V213.17H970.04V221.58H970.78V223.76H971.53V228.12H972.27V232.17H973.02V234.97H973.76V235.9H974.51V248.05H975.25V238.08H976V234.03H976.74V254.59H977.49V230.61H978.23V259.57H978.97V252.09H979.72V247.11H980.46V246.8H981.21V253.65H981.95V266.42H982.7V255.21H983.44V249.91H984.19V266.73H984.93V276.38H985.68V272.33H986.42V270.47H987.17V267.04H987.91V278.56H988.65V286.35H989.4V275.45H990.14V289.15H990.89V285.1H991.63V287.59H992.38V287.9H993.12V293.2H993.87V284.17H994.61V295.69H995.36V298.49H996.1V302.54H996.85V293.82H997.59V300.98H998.33V305.34H999.08V301.92H999.82V303.47H1000.57V309.39H1001.31V310.95H1002.06V306.28H1002.8V323.4H1003.55V313.44H1004.29V311.57H1005.04V324.03H1005.78V323.09H1006.53V328.38H1007.27V324.96H1008.01V320.6H1008.76V328.07H1009.5V324.03H1010.25V323.71H1010.99V336.48H1011.74V329.94H1012.48V334.3H1013.23V335.24H1013.97V345.2H1014.72V339.28H1015.46V345.2H1016.21V339.91H1016.95V349.56H1017.69V346.76H1018.44V349.87H1019.18V348.62H1019.93V351.74H1020.67V350.8H1021.42V349.56H1022.16V357.03H1022.91V352.36H1023.65V355.48H1024.4V362.33H1025.14V355.48H1025.88V358.9H1026.63V361.39H1027.37V362.33H1028.12V358.28H1028.86V360.46H1029.61V360.77H1030.35V366.06H1031.1V362.95H1031.84V362.64H1032.59V365.44H1033.33V368.24H1034.08V364.82H1034.82V369.18H1035.56V370.11H1036.31V371.98H1037.05V367.93H1037.8V372.29H1038.54V371.04H1039.29V369.18H1040.03V373.85H1040.78V375.72H1041.52V373.22H1042.27V372.29H1043.01V374.78H1043.76V376.03H1044.5V376.65H1045.24V376.96H1045.99V376.34H1046.73V377.58H1047.48V376.96H1048.22V377.9H1048.97V379.14H1049.71V378.52H1050.46V375.4H1051.2V377.27H1051.95V377.58H1052.69H1053.44V379.76H1054.18V380.07H1054.92H1055.67H1056.41V380.39H1057.16H1057.9V380.7H1058.65V382.25H1059.39V381.94H1060.14V380.7H1060.88H1061.63V381.01H1062.37V382.25H1063.12V381.94H1063.86V381.63H1064.6V382.88H1065.35V382.57H1066.09V382.25H1066.84H1067.58H1068.33V382.88H1069.07V381.63H1069.82V381.94H1070.56V382.57H1071.31V382.25H1072.05V383.5H1072.79H1073.54V382.57H1074.28V383.19H1075.03H1075.77V382.57H1076.52V383.5H1077.26H1078.01V383.19H1078.75H1079.5V383.5H1080.24V383.19H1080.99V383.5H1081.73H1082.47H1083.22H1083.96H1084.71H1085.45H1086.2H1086.94V383.19H1087.69V382.88H1088.43V383.5Z"/>
<path fill="#ff7f0e" d="M672.77,383.50V383.25H673.69V383.5H674.6H675.51V383.25H676.42V382.74H677.34V381.72H678.25H679.16V380.96H680.08V381.72H680.99V379.44H681.9V380.2H682.82V378.42H683.73V379.44H684.64V380.45H685.56V378.68H686.47V377.15H687.38V377.91H688.3V375.12H689.21V374.61H690.12H691.04V371.31H691.95V369.28H692.86V370.3H693.78V368.78H694.69V365.73H695.6V369.28H696.52V369.03H697.43V364.46H698.34V358.87H699.26V362.68H700.17V359.13H701.08V359.64H702V352.02H702.91V358.62H703.82V355.32H704.74V357.61H705.65V351.77H706.56V349.23H707.48V351H708.39V349.99H709.3V349.48H710.22V341.86H711.13V349.23H712.04V346.94H712.96V349.48H713.87V351.51H714.78V340.85H715.7V341.86H716.61V339.58H717.52V337.8H718.44V343.9H719.35V339.07H720.26V342.12H721.18V336.28H722.09V330.19H723V336.28H723.92V329.68H724.83V328.16H725.74V330.95H726.66V327.39H727.57V327.14H728.48V320.03H729.4V317.24H730.31V320.79H731.22V320.54H732.14V321.3H733.05V322.32H733.96V317.49H734.88V322.82H735.79V313.94H736.7V314.19H737.62V315.46H738.53V309.62H739.44V314.95H740.36V312.16H741.27V310.38H742.18V308.86H743.1V312.42H744.01V316.73H744.92V304.29H745.84V304.8H746.75V299.72H747.66V304.29H748.58V300.48H749.49V302.51H750.4V299.72H751.32V291.09H752.23V294.9H753.14V294.39H754.05V290.08H754.97V294.9H755.88V288.55H756.79V297.69H757.71V290.58H758.62V278.65H759.53V289.82H760.45V284.24H761.36V282.71H762.27V283.47H763.19V286.01H764.1V287.79H765.01V282.71H765.93V281.95H766.84V280.43H767.75V279.92H768.67V281.7H769.58V275.6H770.49V278.9H771.41V273.07H772.32V270.27H773.23V276.37H774.15V278.9H775.06V278.4H775.97V277.38H776.89V274.34H777.8V279.67H778.71V277.38H779.63V276.11H780.54V273.32H781.45H782.37V264.18H783.28V274.59H784.19V271.03H785.11V268.75H786.02V269.51H786.93V257.07H787.85V266.72H788.76V262.66H789.67V254.79H790.59V270.53H791.5V264.69H792.41V261.9H793.33V253.77H794.24V259.61H795.15V248.95H796.07V256.06H796.98V254.03H797.89V252.76H798.81V249.71H799.72V257.07H800.63V255.29H801.55V259.86H802.46V254.53H803.37V246.16H804.29V264.69H805.2V256.06H806.11V250.98H807.03V249.71H807.94V259.61H808.85V257.33H809.77V248.19H810.68V258.85H811.59V253.77H812.51V253.01H813.42V244.12H814.33V245.9H815.25V243.11H816.16V250.98H817.07V244.38H817.99V243.87H818.9V241.59H819.81V246.16H820.73V246.92H821.64V240.06H822.55V236.25H823.47V237.27H824.38V229.91H825.29V243.87H826.21V242.85H827.12V245.9H828.03V233.46H828.95V237.27H829.86V243.11H830.77V239.3H831.68V242.35H832.6V238.03H833.51V242.09H834.42V230.42H835.34V227.11H836.25V241.84H837.16V234.98H838.08V230.16H838.99V238.29H839.9V228.89H840.82V225.34H841.73V236.25H842.64V236.76H843.56V231.68H844.47V229.4H845.38V237.02H846.3V238.03H847.21V232.19H848.12V229.65H849.04V234.22H849.95V242.35H850.86V236.51H851.78V230.16H852.69V237.78H853.6V235.49H854.52V239.3H855.43V227.62H856.34V229.15H857.26V231.94H858.17V233.46H859.08V230.92H860V233.46H860.91V228.64H861.82V230.42H862.74V237.78H863.65V218.48H864.56V220.51H865.48V227.37H866.39V229.65H867.3V227.11H868.22V225.85H869.13V228.64H870.04V224.83H870.96V226.35H871.87V228.64H872.78V237.02H873.7V227.11H874.61V222.55H875.52V229.15H876.44V222.55H877.35V227.88H878.26V223.31H879.18V229.4H880.09V228.89H881V227.37H881.92V234.73H882.83V225.34H883.74V219.75H884.66V219.5H885.57V234.48H886.48V205.28H887.4V230.92H888.31V224.58H889.22V223.81H890.14V219.5H891.05V233.97H891.96H892.88V225.34H893.79H894.7V219.5H895.62V216.45H896.53V234.73H897.44V215.94H898.36V226.1H899.27V222.8H900.18V227.62H901.1V230.42H902.01V213.15H902.92V237.52H903.84V230.67H904.75V242.35H905.66V229.91H906.58V212.9H907.49V227.37H908.4V226.61H909.31V223.31H910.23V225.08H911.14V233.72H912.05V229.4H912.97V225.59H913.88V230.42H914.79V226.61H915.71V230.16H916.62V219.75H917.53V221.02H918.45V224.58H919.36V228.38H920.27V212.14H921.19V226.61H922.1V228.89H923.01V220.26H923.93V234.98H924.84V229.15H925.75V229.65H926.67V224.07H927.58V227.62H928.49V231.18H929.41V233.46H930.32V232.19H931.23V229.15H932.15V224.83H933.06V224.32H933.97V230.16H934.89V229.65H935.8V230.42H936.71V232.7H937.63V226.35H938.54V236.76H939.45V220.77H940.37V239.3H941.28V226.86H942.19V222.04H943.11V222.29H944.02V239.55H944.93V227.88H945.85V233.21H946.76V228.89H947.67V234.98H948.59V238.29H949.5V237.78H950.41V234.48H951.33V220.01H952.24V245.39H953.15V232.45H954.07V237.02H954.98V229.91H955.89V227.37H956.81V232.45H957.72V242.35H958.63V233.97H959.55V240.06H960.46V237.27H961.37V234.22H962.29V236H963.2V235.24H964.11V238.79H965.03V229.65H965.94V237.78H966.85V225.59H967.77V245.14H968.68V237.78H969.59V238.29H970.51V240.82H971.42V237.27H972.33V246.66H973.25V242.85H974.16V236.51H975.07V246.41H975.99V246.16H976.9V241.84H977.81V240.82H978.73V242.09H979.64V236.51H980.55V243.11H981.47V244.63H982.38V243.36H983.29V239.81H984.21V253.52H985.12V244.89H986.03V252.5H986.94V254.28H987.86V235.75H988.77V249.96H989.68V260.12H990.6V244.63H991.51V256.06H992.42V245.39H993.34V255.55H994.25V249.96H995.16V247.68H996.08V249.71H996.99V254.28H997.9V259.86H998.82V264.43H999.73V255.55H1000.64V248.69H1001.56V255.04H1002.47V240.57H1003.38V260.88H1004.3V256.56H1005.21V272.05H1006.12V264.69H1007.04V265.45H1007.95V249.2H1008.86V259.86H1009.78V254.28H1010.69V259.86H1011.6V275.86H1012.52V272.05H1013.43V264.43H1014.34V253.77H1015.26V269.77H1016.17V266.21H1017.08V274.34H1018V271.03H1018.91V271.29H1019.82V272.05H1020.74V272.3H1021.65V272.05H1022.56V271.54H1023.48V271.8H1024.39V280.68H1025.3V275.86H1026.22V279.16H1027.13V285.25H1028.04V287.79H1028.96V274.59H1029.87V281.44H1030.78V276.37H1031.7V277.38H1032.61V293.12H1033.52V285.51H1034.44V283.73H1035.35V289.57H1036.26V293.88H1037.18V287.03H1038.09V287.54H1039V285.51H1039.92V291.85H1040.83V286.01H1041.74V293.12H1042.66V281.19H1043.57V273.83H1044.48V291.34H1045.4V294.14H1046.31V292.87H1047.22H1048.14V290.08H1049.05V300.23H1049.96V302.51H1050.88V304.04H1051.79V303.78H1052.7V300.48H1053.62V308.35H1054.53V307.08H1055.44V308.86H1056.36V307.59H1057.27V304.8H1058.18V304.55H1059.1V303.53H1060.01V306.58H1060.92V311.15H1061.84V308.35H1062.75V314.95H1063.66V318H1064.57V312.16H1065.49V316.48H1066.4V311.4H1067.31V307.34H1068.23V316.48H1069.14V323.84H1070.05V318H1070.97V322.82H1071.88V317.49H1072.79V318.25H1073.71V328.92H1074.62V327.9H1075.53V324.09H1076.45V332.22H1077.36V324.09H1078.27V331.2H1079.19V331.46H1080.1V339.07H1081.01V333.74H1081.93V337.3H1082.84V334.76H1083.75V344.91H1084.67V340.85H1085.58V343.13H1086.49V344.15H1087.41V347.96H1088.32V341.86H1089.23V344.15H1090.15V351H1091.06V349.99H1091.97V354.81H1092.89V352.78H1093.8H1094.71V353.54H1095.63V359.38H1096.54V362.94H1097.45V359.89H1098.37V362.17H1099.28V360.65H1100.19V357.61H1101.11V359.89H1102.02V361.67H1102.93V359.89H1103.85V361.41H1104.76V364.71H1105.67V365.73H1106.59V368.78H1107.5V371.31H1108.41V371.57H1109.33V370.3H1110.24V371.06H1111.15V374.61H1112.07V375.88H1112.98V375.38H1113.89V376.14H1114.81V375.12H1115.72V376.9H1116.63H1117.55V377.41H1118.46V379.44H1119.37V378.68H1120.29V379.18H1121.2V380.71H1122.11V381.47H1123.03V381.72H1123.94V382.48H1124.85V382.74H1125.77V382.23H1126.68V382.99H1127.59V382.48H1128.51V382.99H1129.42V383.5Z"/>
<path fill="#2ca02c" d="M676.72,383.50V382.99H677.63V383.5H678.54H679.45V382.99H680.36V381.97H681.27V382.74H682.18V382.48H683.09V382.99H684V383.5H684.91V383.25H685.82V381.72H686.73V382.23H687.64V381.72H688.55V381.21H689.46V381.72H690.37V380.7H691.28V381.72H692.19V381.21H693.11V380.44H694.02V379.43H694.93H695.84V379.68H696.75V379.94H697.66V379.43H698.57V377.64H699.48V378.41H700.39V378.15H701.3V378.66H702.21V377.13H703.12V376.62H704.03V377.64H704.94V375.61H705.85V377.13H706.76V372.04H707.67V374.59H708.58V373.06H709.5V375.61H710.41V371.53H711.32V372.55H712.23V371.28H713.14V371.53H714.05V368.48H714.96V371.79H715.87V372.04H716.78V368.22H717.69V373.31H718.6V368.48H719.51V366.69H720.42V368.99H721.33V369.24H722.24V365.42H723.15V364.66H724.06V367.46H724.98V365.68H725.89V363.89H726.8V363.38H727.71V361.6H728.62V363.64H729.53V362.87H730.44V363.38H731.35V360.58H732.26V362.87H733.17V363.64H734.08V364.4H734.99V354.98H735.9V356H736.81V357.02H737.72V356.51H738.63V356.76H739.54V355.24H740.45V354.47H741.37V356.76H742.28V358.04H743.19V356H744.1V357.27H745.01V354.22H745.92V349.89H746.83V356.25H747.74V350.65H748.65V356.25H749.56V348.87H750.47V348.62H751.38V346.07H752.29V349.63H753.2V343.78H754.11V341.49H755.02V348.11H755.93V350.65H756.85V346.83H757.76V341.49H758.67V337.92H759.58V338.94H760.49V344.03H761.4V343.52H762.31V335.12H763.22V337.92H764.13V340.98H765.04V337.67H765.95V331.81H766.86V335.12H767.77V327.48H768.68V336.14H769.59V338.68H770.5V334.36H771.41V331.56H772.32V334.61H773.24V332.57H774.15V326.21H775.06V335.37H775.97V332.06H776.88V331.56H777.79V329.01H778.7V328.5H779.61V327.74H780.52V320.35H781.43V325.44H782.34V326.72H783.25V327.74H784.16V325.95H785.07V326.97H785.98V325.95H786.89V323.66H787.8V321.12H788.72V315.51H789.63V324.93H790.54V320.1H791.45V317.55H792.36V314.49H793.27V323.15H794.18V318.06H795.09V313.22H796V315H796.91V319.08H797.82V317.04H798.73V318.06H799.64V323.92H800.55V318.82H801.46V311.44H802.37V314.49H803.28V316.02H804.19V307.87H805.11V309.4H806.02V304.05H806.93V306.6H807.84V306.09H808.75V304.56H809.66V304.31H810.57V311.18H811.48V305.84H812.39V306.86H813.3V304.82H814.21V308.64H815.12V304.31H816.03V307.87H816.94V310.17H817.85V302.53H818.76V301.76H819.67V304.56H820.59V293.87H821.5V299.47H822.41V295.65H823.32V304.82H824.23V290.56H825.14V295.65H826.05V289.8H826.96V286.99H827.87V281.39H828.78V294.12H829.69V285.72H830.6V291.32H831.51V284.7H832.42V281.65H833.33V284.96H834.24V286.99H835.15V283.94H836.06V291.07H836.98V289.29H837.89V296.16H838.8V274.77H839.71V276.55H840.62V285.98H841.53V280.88H842.44V274.52H843.35V282.92H844.26V278.59H845.17V280.88H846.08V281.65H846.99V283.43H847.9V286.23H848.81V288.01H849.72V279.86H850.63V276.81H851.54V269.17H852.46V282.92H853.37V265.35H854.28V277.83H855.19V273.5H856.1V272.23H857.01V265.35H857.92V278.34H858.83V275.28H859.74V266.62H860.65V274.52H861.56V265.35H862.47V262.55H863.38V261.02H864.29V268.41H865.2V269.68H866.11V263.06H867.02V274.26H867.93V264.59H868.85V261.53H869.76V267.13H870.67V262.8H871.58V258.48H872.49V261.02H873.4V260.26H874.31V261.53H875.22V264.08H876.13V267.13H877.04V268.66H877.95V264.59H878.86V255.67H879.77V258.48H880.68V255.93H881.59V260.51H882.5V262.55H883.41V261.79H884.32V248.8H885.24V249.05H886.15V262.04H887.06V247.78H887.97V265.35H888.88V238.36H889.79V244.98H890.7V246.51H891.61V250.07H892.52V255.17H893.43V242.18H894.34V246.76H895.25V251.35H896.16V254.4H897.07V249.56H897.98V250.84H898.89V244.73H899.8V246.25H900.72V253.89H901.63V245.74H902.54V237.09H903.45V255.93H904.36V241.42H905.27V242.69H906.18V239.12H907.09V238.36H908V237.09H908.91V223.85H909.82V231.74H910.73V229.96H911.64V232.5H912.55V242.18H913.46V235.81H914.37V233.78H915.28V230.72H916.19V245.49H917.11V225.37H918.02V234.54H918.93V224.1H919.84V230.21H920.75V225.37H921.66V229.45H922.57V233.01H923.48H924.39V225.88H925.3V230.47H926.21V236.58H927.12V214.68H928.03V239.12H928.94V228.17H929.85V227.92H930.76V216.72H931.67V227.92H932.59V226.39H933.5V225.63H934.41V228.17H935.32V218.24H936.23V220.03H937.14V233.78H938.05V226.39H938.96V228.68H939.87V216.72H940.78V218.24H941.69V221.05H942.6V212.13H943.51V226.39H944.42V215.7H945.33V220.03H946.24V215.44H947.15V221.05H948.06V228.68H948.98V209.08H949.89V221.81H950.8V210.1H951.71V223.34H952.62V212.9H953.53V220.03H954.44V217.48H955.35V212.39H956.26V216.21H957.17V212.13H958.08V215.44H958.99V211.11H959.9V210.61H960.81V208.82H961.72H962.63V199.91H963.54V218.75H964.46V215.44H965.37V199.66H966.28V208.82H967.19V204.75H968.1V220.03H969.01V216.21H969.92V213.41H970.83V211.62H971.74V202.71H972.65V207.55H973.56V204.49H974.47V205H975.38V206.02H976.29V192.27H977.2V213.41H978.11V205.26H979.02V204.75H979.93V207.29H980.85V199.91H981.76V202.46H982.67V209.59H983.58V214.42H984.49V203.73H985.4V206.79H986.31V209.59H987.22V205H988.13V195.07H989.04V200.93H989.95V207.8H990.86V200.67H991.77V206.02H992.68V212.39H993.59V203.22H994.5V208.06H995.41V190.74H996.33V209.08H997.24V207.04H998.15V195.58H999.06V205H999.97V196.09H1000.88V193.29H1001.79V217.48H1002.7V201.18H1003.61V202.46H1004.52V229.19H1005.43V208.31H1006.34V198.64H1007.25V204.24H1008.16V195.84H1009.07V207.29H1009.98V202.46H1010.89V201.44H1011.8V206.28H1012.72V210.61H1013.63V204.49H1014.54V213.15H1015.45V214.93H1016.36V213.66H1017.27V205H1018.18V212.64H1019.09V208.31H1020V210.86H1020.91V213.92H1021.82V203.48H1022.73V211.11H1023.64V209.33H1024.55V209.59H1025.46V216.72H1026.37V200.93H1027.28V203.48H1028.2V216.46H1029.11V210.35H1030.02H1030.93V202.71H1031.84V214.42H1032.75V210.86H1033.66V211.37H1034.57V202.97H1035.48V219.01H1036.39V194.05H1037.3V215.95H1038.21V220.79H1039.12V212.9H1040.03V215.19H1040.94V217.23H1041.85V215.44H1042.76V212.13H1043.67V226.65H1044.59V223.08H1045.5V229.19H1046.41V229.96H1047.32V224.36H1048.23V220.28H1049.14V223.08H1050.05V233.78H1050.96V230.21H1051.87V227.92H1052.78V228.68H1053.69V226.65H1054.6V223.34H1055.51V227.67H1056.42V236.58H1057.33V227.16H1058.24V238.87H1059.15V230.98H1060.06V220.79H1060.98V225.37H1061.89V246H1062.8V242.18H1063.71V239.38H1064.62V228.17H1065.53V237.34H1066.44V256.18H1067.35V247.78H1068.26V243.96H1069.17V243.71H1070.08V246.25H1070.99V252.36H1071.9V246.51H1072.81V250.58H1073.72V262.04H1074.63V251.09H1075.54V247.02H1076.46V245.49H1077.37V255.67H1078.28V261.79H1079.19V264.84H1080.1V261.02H1081.01V259.24H1081.92V273.24H1082.83V269.43H1083.74V272.23H1084.65V275.28H1085.56V283.18H1086.47V274.77H1087.38V283.18H1088.29V286.99H1089.2V278.08H1090.11V280.63H1091.02V298.2H1091.93V296.42H1092.85V292.34H1093.76V288.27H1094.67V296.42H1095.58V293.87H1096.49V302.78H1097.4V298.96H1098.31V307.87H1099.22V313.48H1100.13V315H1101.04H1101.95V309.15H1102.86V316.53H1103.77V318.57H1104.68V324.68H1105.59V322.9H1106.5V330.28H1107.41V333.59H1108.33V340.47H1109.24V339.45H1110.15V342H1111.06H1111.97V341.74H1112.88V352.43H1113.79V349.12H1114.7V354.47H1115.61V353.71H1116.52V355.75H1117.43V363.13H1118.34V357.78H1119.25V365.17H1120.16V367.97H1121.07V370.26H1121.98V372.55H1122.89V373.82H1123.8V375.1H1124.72V377.64H1125.63V379.94H1126.54V380.7H1127.45V379.43H1128.36V381.97H1129.27V381.46H1130.18V382.99H1131.09V383.25H1132V383.5Z"/>
<path fill="#d62728" d="M672.00,383.50V382.22H672.9V382.99H673.81V381.96H674.71V380.93H675.61V379.13H676.51V377.85H677.42V375.54H678.32V377.08H679.22V374H680.13V371.17H681.03V369.38H681.93V364.76H682.84V363.99H683.74H684.64V359.88H685.54V353.97H686.45V353.2H687.35V351.92H688.25V345.5H689.16V351.66H690.06V347.55H690.96V342.93H691.87V336.51H692.77V332.66H693.67V334.46H694.57V331.63H695.48V324.19H696.38V327.01H697.28V320.08H698.19V317.25H699.09V313.66H699.99V319.82H700.9V313.14H701.8V310.32H702.7V305.18H703.6V299.28H704.51V300.05H705.41V299.54H706.31V293.63H707.22V296.97H708.12V300.82H709.02V288.75H709.92V293.63H710.83V289.52H711.73V279.25H712.63V278.48H713.54V281.82H714.44V279.76H715.34V277.71H716.25V279.51H717.15V284.13H718.05V270.26H718.95V270.01H719.86V264.1H720.76V267.7H721.66V259.74H722.57V260.76H723.47V263.33H724.37V260.76H725.28V254.6H726.18V256.65H727.08V256.4H727.98V252.29H728.89V254.6H729.79V255.37H730.69V252.29H731.6V244.07H732.5V237.14H733.4V235.86H734.31V242.27H735.21V238.17H736.11V229.69H737.01V247.67H737.92V233.03H738.82V236.63H739.72V232.26H740.63V240.99H741.53V230.21H742.43H743.34V241.5H744.24V225.58H745.14V229.18H746.04V224.3H746.95V227.38H747.85V216.08H748.75V228.67H749.66V220.19H750.56V226.35H751.46V229.95H752.36V222.5H753.27V217.37H754.17V218.14H755.07V209.41H755.98V205.3H756.88V228.15H757.78V217.37H758.69V214.8H759.59V226.35H760.49V223.02H761.39V214.54H762.3V211.72H763.2V215.06H764.1V213.52H765.01V205.81H765.91V217.62H766.81V216.85H767.72V208.38H768.62V203.76H769.52V217.11H770.42V209.92H771.33V204.53H772.23V217.11H773.13V208.64H774.04V214.03H774.94V216.34H775.84V225.84H776.75V215.31H777.65V197.85H778.55V213H779.45V199.91H780.36V214.03H781.26V219.68H782.16V211.72H783.07V193.74H783.97H784.87V201.96H785.77V204.53H786.68V213.77H787.58V204.27H788.48V200.16H789.39V208.12H790.29V201.7H791.19V203.25H792.1H793V206.07H793.9H794.8V217.37H795.71V201.45H796.61V206.33H797.51V197.34H798.42V195.29H799.32V203.25H800.22V192.46H801.13V215.31H802.03V202.73H802.93V201.7H803.83V215.83H804.74V208.89H805.64V206.58H806.54V205.81H807.45V214.29H808.35V198.88H809.25V204.79H810.16V215.83H811.06V206.58H811.96V219.94H812.86V205.56H813.77V211.72H814.67V209.92H815.57V213.52H816.48V196.06H817.38V199.91H818.28V208.64H819.18V207.1H820.09V208.12H820.99V211.98H821.89V205.3H822.8V205.81H823.7V205.56H824.6V203.25H825.51V215.06H826.41V215.83H827.31V207.87H828.21V223.27H829.12V205.56H830.02V217.88H830.92V202.73H831.83V211.72H832.73V219.17H833.63V212.75H834.54V209.92H835.44V216.08H836.34V219.42H837.24V194.77H838.15V202.99H839.05V212.49H839.95V214.54H840.86V209.66H841.76V205.3H842.66V204.27H843.57V207.35H844.47V215.83H845.37V213.52H846.27V214.54H847.18V220.71H848.08V209.41H848.98V220.19H849.89V207.35H850.79V211.98H851.69V201.19H852.6V221.22H853.5V220.96H854.4V216.85H855.3V219.17H856.21V230.21H857.11V229.18H858.01V229.44H858.92V227.38H859.82V230.98H860.72V223.79H861.62V218.14H862.53V224.3H863.43V225.07H864.33V228.15H865.24V227.38H866.14V223.27H867.04V224.3H867.95V233.8H868.85V229.18H869.75V221.48H870.65V214.54H871.56V224.56H872.46V223.02H873.36V234.06H874.27V219.68H875.17V228.92H876.07V228.67H876.98V228.15H877.88V229.18H878.78V227.38H879.68V238.17H880.59V239.45H881.49V229.69H882.39V237.91H883.3V246.38H884.2V225.33H885.1V235.6H886.01V239.96H886.91V241.76H887.81V235.86H888.71V229.18H889.62V237.4H890.52V242.02H891.42V239.45H892.33V232H893.23V235.86H894.13V247.41H895.03V247.15H895.94V228.67H896.84V246.13H897.74V236.63H898.65V253.06H899.55V238.42H900.45V249.72H901.36V248.69H902.26V255.11H903.16V240.73H904.06V237.65H904.97V248.18H905.87V239.19H906.77V248.18H907.68V243.56H908.58V244.33H909.48V245.61H910.39V246.38H911.29V247.15H912.19V244.33H913.09V248.44H914V256.65H914.9V255.11H915.8V239.19H916.71V259.99H917.61V249.46H918.51V253.06H919.42V255.88H920.32V247.15H921.22V256.91H922.12V252.29H923.03V256.65H923.93V260.51H924.83V258.19H925.74V255.37H926.64V262.05H927.54V263.33H928.44V265.13H929.35V255.37H930.25V260.25H931.15V268.47H932.06V261.79H932.96V266.67H933.86V264.61H934.77V263.59H935.67V275.4H936.57V267.95H937.47V265.9H938.38V265.38H939.28V275.4H940.18V276.17H941.09V267.7H941.99V270.01H942.89V272.32H943.8V276.17H944.7V274.11H945.6H946.5V276.68H947.41V275.14H948.31V276.43H949.21V274.11H950.12V274.37H951.02V273.86H951.92V273.34H952.83V275.91H953.73V281.05H954.63H955.53V277.71H956.44V275.91H957.34V279.76H958.24V285.16H959.15V284.64H960.05V289.01H960.95V279.51H961.86V277.97H962.76V295.68H963.66V292.86H964.56V291.32H965.47V276.17H966.37V286.95H967.27V289.78H968.18V288.49H969.08V287.47H969.98V299.28H970.88V290.29H971.79V289.26H972.69V285.93H973.59V286.44H974.5V298.51H975.4V296.97H976.3V288.75H977.21V292.86H978.11V290.55H979.01V300.31H979.91V297.74H980.82V302.62H981.72V287.21H982.62V295.17H983.53V308.52H984.43V297.99H985.33V292.35H986.24V298.51H987.14V299.02H988.04V301.08H988.94V303.64H989.85V293.12H990.75V305.95H991.65V304.41H992.56V305.18H993.46V310.58H994.36V312.89H995.27V310.06H996.17V305.95H997.07V308.27H997.97V305.18H998.88V306.21H999.78V312.89H1000.68V317.25H1001.59V313.14H1002.49H1003.39V313.66H1004.29V320.85H1005.2V315.97H1006.1V318.79H1007V313.91H1007.91V324.44H1008.81V320.59H1009.71V323.67H1010.62V319.31H1011.52V317H1012.42V330.09H1013.32V327.01H1014.23V318.54H1015.13V320.08H1016.03V330.86H1016.94V324.19H1017.84V318.79H1018.74V325.73H1019.65V329.58H1020.55V321.1H1021.45V327.78H1022.35V327.01H1023.26V328.29H1024.16V335.48H1025.06V332.15H1025.97V331.12H1026.87V331.89H1027.77V336H1028.68V333.94H1029.58V331.38H1030.48V337.28H1031.38V332.66H1032.29V331.89H1033.19V334.97H1034.09V334.46H1035V335.23H1035.9V338.31H1036.8V339.59H1037.7V341.13H1038.61V344.21H1039.51V341.13H1040.41V344.21H1041.32V335.48H1042.22V344.98H1043.12V345.75H1044.03V342.16H1044.93V340.62H1045.83V352.17H1046.73V344.98H1047.64V344.21H1048.54V342.93H1049.44V351.15H1050.35V348.84H1051.25V344.47H1052.15V348.84H1053.06V352.69H1053.96V348.84H1054.86V352.43H1055.76V356.54H1056.67V355H1057.57V355.25H1058.47V353.97H1059.38H1060.28V351.66H1061.18V356.54H1062.09V353.71H1062.99V356.54H1063.89V353.97H1064.79V352.94H1065.7V357.57H1066.6V360.9H1067.5V361.67H1068.41V358.85H1069.31V360.9H1070.21V364.76H1071.12V362.96H1072.02V366.04H1072.92V365.01H1073.82V366.3H1074.73V363.73H1075.63V365.27H1076.53V364.5H1077.44V366.81H1078.34V365.53H1079.24V368.86H1080.14V369.38H1081.05V371.43H1081.95V368.61H1082.85V368.09H1083.76V367.58H1084.66V371.69H1085.56V371.17H1086.47V371.69H1087.37V372.46H1088.27V375.28H1089.17V372.72H1090.08V370.92H1090.98V371.17H1091.88V372.72H1092.79V372.97H1093.69V376.57H1094.59V375.28H1095.5V376.31H1096.4V374.77H1097.3V376.05H1098.2V378.36H1099.11V377.08H1100.01V377.85H1100.91V378.36H1101.82V377.85H1102.72V379.65H1103.62V379.91H1104.53H1105.43V379.39H1106.33V379.65H1107.23V380.42H1108.14V381.7H1109.04V380.93H1109.94V380.42H1110.85V382.22H1111.75V381.45H1112.65V382.47H1113.55V382.22H1114.46H1115.36V381.19H1116.26V382.22H1117.17V382.73H1118.07V382.47H1118.97V383.24H1119.88V383.5H1120.78V383.24H1121.68H1122.58V382.73H1123.49V383.5Z"/>
</g>
<line x1="649" y1="25" x2="649" y2="384" stroke="#000" stroke-opacity="0.24" stroke-width="1"/>
<line x1="1155" y1="25" x2="1155" y2="384" stroke="#000" stroke-opacity="0.26" stroke-width="1"/>
<line x1="649.5" y1="25.5" x2="1154.5" y2="25.5" stroke="#000" stroke-opacity="0.12" stroke-width="1"/>
<line x1="649.5" y1="383.5" x2="1154.5" y2="383.5" stroke="#000" stroke-opacity="0.55" stroke-width="1"/>
<line x1="647" y1="383.30" x2="648.5" y2="383.30" stroke="#000" stroke-opacity=".22" stroke-width="1"/>
<text class="tk" x="645.6" y="386.70" text-anchor="end">0.0</text>
<line x1="647" y1="333.55" x2="648.5" y2="333.55" stroke="#000" stroke-opacity=".22" stroke-width="1"/>
<text class="tk" x="645.6" y="336.95" text-anchor="end">0.5</text>
<line x1="647" y1="283.80" x2="648.5" y2="283.80" stroke="#000" stroke-opacity=".22" stroke-width="1"/>
<text class="tk" x="645.6" y="287.20" text-anchor="end">1.0</text>
<line x1="647" y1="234.05" x2="648.5" y2="234.05" stroke="#000" stroke-opacity=".22" stroke-width="1"/>
<text class="tk" x="645.6" y="237.45" text-anchor="end">1.5</text>
<line x1="647" y1="184.30" x2="648.5" y2="184.30" stroke="#000" stroke-opacity=".22" stroke-width="1"/>
<text class="tk" x="645.6" y="187.70" text-anchor="end">2.0</text>
<line x1="647" y1="134.55" x2="648.5" y2="134.55" stroke="#000" stroke-opacity=".22" stroke-width="1"/>
<text class="tk" x="645.6" y="137.95" text-anchor="end">2.5</text>
<line x1="647" y1="84.80" x2="648.5" y2="84.80" stroke="#000" stroke-opacity=".22" stroke-width="1"/>
<text class="tk" x="645.6" y="88.20" text-anchor="end">3.0</text>
<line x1="647" y1="35.05" x2="648.5" y2="35.05" stroke="#000" stroke-opacity=".22" stroke-width="1"/>
<text class="tk" x="645.6" y="38.45" text-anchor="end">3.5</text>
<line x1="668.29" y1="384" x2="668.29" y2="385.5" stroke="#000" stroke-opacity=".22" stroke-width="1"/>
<text class="tk" x="668.29" y="394.1" text-anchor="middle">0.0</text>
<line x1="761.50" y1="384" x2="761.50" y2="385.5" stroke="#000" stroke-opacity=".22" stroke-width="1"/>
<text class="tk" x="761.50" y="394.1" text-anchor="middle">0.2</text>
<line x1="854.71" y1="384" x2="854.71" y2="385.5" stroke="#000" stroke-opacity=".22" stroke-width="1"/>
<text class="tk" x="854.71" y="394.1" text-anchor="middle">0.4</text>
<line x1="947.92" y1="384" x2="947.92" y2="385.5" stroke="#000" stroke-opacity=".22" stroke-width="1"/>
<text class="tk" x="947.92" y="394.1" text-anchor="middle">0.6</text>
<line x1="1041.13" y1="384" x2="1041.13" y2="385.5" stroke="#000" stroke-opacity=".22" stroke-width="1"/>
<text class="tk" x="1041.13" y="394.1" text-anchor="middle">0.8</text>
<line x1="1134.34" y1="384" x2="1134.34" y2="385.5" stroke="#000" stroke-opacity=".22" stroke-width="1"/>
<text class="tk" x="1134.34" y="394.1" text-anchor="middle">1.0</text>
<text class="lb" x="902.4" y="407" text-anchor="middle">t</text>
<text class="lb" style="font-size:11.2px" transform="translate(625,204.5) rotate(-90)" text-anchor="middle"><tspan class="i">π</tspan>(<tspan class="i">t</tspan>)</text>
<rect x="402.5" y="31.5" width="162" height="81" rx="2" ry="2" fill="#fff" fill-opacity=".8" stroke="#e3e3e3" stroke-width="1"/>
<rect x="407.2" y="38.40" width="24.8" height="7.8" fill="#1f77b4" fill-opacity=".5"/>
<text class="lg" x="442.5" y="45.90"><tspan class="i">π</tspan><tspan class="sub" dy="2.1">mode</tspan><tspan dy="-2.1">(</tspan><tspan class="i" dx=".35">t</tspan><tspan dx=".2">;</tspan><tspan class="i" dx="2.35">s</tspan><tspan dx="2.3">=</tspan><tspan class="n" dx="5.4">−</tspan><tspan class="n" dx="2.6">0.54</tspan>)</text>
<rect x="407.2" y="57.75" width="24.8" height="7.8" fill="#ff7f0e" fill-opacity=".5"/>
<text class="lg" x="442.5" y="65.25"><tspan class="i">π</tspan><tspan class="sub" dy="2.1">mode</tspan><tspan dy="-2.1">(</tspan><tspan class="i" dx=".35">t</tspan><tspan dx=".2">;</tspan><tspan class="i" dx="2.35">s</tspan><tspan dx="2.3">=</tspan><tspan class="n" dx="2.6">0.0</tspan>)</text>
<rect x="407.2" y="77.10" width="24.8" height="7.8" fill="#2ca02c" fill-opacity=".5"/>
<text class="lg" x="442.5" y="84.60"><tspan class="i">π</tspan><tspan class="sub" dy="2.1">mode</tspan><tspan dy="-2.1">(</tspan><tspan class="i" dx=".35">t</tspan><tspan dx=".2">;</tspan><tspan class="i" dx="2.35">s</tspan><tspan dx="2.3">=</tspan><tspan class="n" dx="2.6">0.81</tspan>)</text>
<rect x="407.2" y="96.45" width="24.8" height="7.8" fill="#d62728" fill-opacity=".5"/>
<text class="lg" x="442.5" y="103.95"><tspan class="i">π</tspan><tspan class="sub" dy="2.1">mode</tspan><tspan dy="-2.1">(</tspan><tspan class="i" dx=".35">t</tspan><tspan dx=".2">;</tspan><tspan class="i" dx="2.35">s</tspan><tspan dx="2.3">=</tspan><tspan class="n" dx="2.6">1.29</tspan></text>
<rect x="958.5" y="31.5" width="190.7" height="81" rx="2" ry="2" fill="#fff" fill-opacity=".8" stroke="#e3e3e3" stroke-width="1"/>
<rect x="963.2" y="38.40" width="24.8" height="7.8" fill="#1f77b4" fill-opacity=".5"/>
<text class="lg" x="998.5" y="45.90"><tspan class="i">π</tspan><tspan class="sub" dy="2.1">ln</tspan><tspan dy="-2.1">(</tspan><tspan class="i">t</tspan>;<tspan class="i" dx="2">m</tspan><tspan dx="2.4">=</tspan><tspan class="n" dx="2.5">0.0</tspan>,<tspan class="i" dx="2.9">s</tspan><tspan dx="2.6">=</tspan><tspan class="n" dx="2.5">0.5</tspan>)</text>
<rect x="963.2" y="57.75" width="24.8" height="7.8" fill="#ff7f0e" fill-opacity=".5"/>
<text class="lg" x="998.5" y="65.25"><tspan class="i">π</tspan><tspan class="sub" dy="2.1">ln</tspan><tspan dy="-2.1">(</tspan><tspan class="i">t</tspan>;<tspan class="i" dx="2">m</tspan><tspan dx="2.4">=</tspan><tspan class="n" dx="2.5">0.0</tspan>,<tspan class="i" dx="2.9">s</tspan><tspan dx="2.6">=</tspan><tspan class="n" dx="2.5">1.0</tspan>)</text>
<rect x="963.2" y="77.10" width="24.8" height="7.8" fill="#2ca02c" fill-opacity=".5"/>
<text class="lg" x="998.5" y="84.60"><tspan class="i">π</tspan><tspan class="sub" dy="2.1">ln</tspan><tspan dy="-2.1">(</tspan><tspan class="i">t</tspan>;<tspan class="i" dx="2">m</tspan><tspan dx="2.4">=</tspan><tspan class="n" dx="2.5">0.5</tspan>,<tspan class="i" dx="2.9">s</tspan><tspan dx="2.6">=</tspan><tspan class="n" dx="2.5">1.0</tspan>)</text>
<rect x="963.2" y="96.45" width="24.8" height="7.8" fill="#d62728" fill-opacity=".5"/>
<text class="lg" x="998.5" y="103.95"><tspan class="i">π</tspan><tspan class="sub" dy="2.1">ln</tspan><tspan dy="-2.1">(</tspan><tspan class="i">t</tspan>;<tspan class="i" dx="2">m</tspan><tspan dx="2.4">=</tspan><tspan class="n" dx="5.4">−</tspan><tspan class="n" dx="2.6">0.5</tspan>,<tspan class="i" dx="2.9">s</tspan><tspan dx="2.6">=</tspan><tspan class="n" dx="2.5">1.0</tspan>)</text>
</svg></body></html>
